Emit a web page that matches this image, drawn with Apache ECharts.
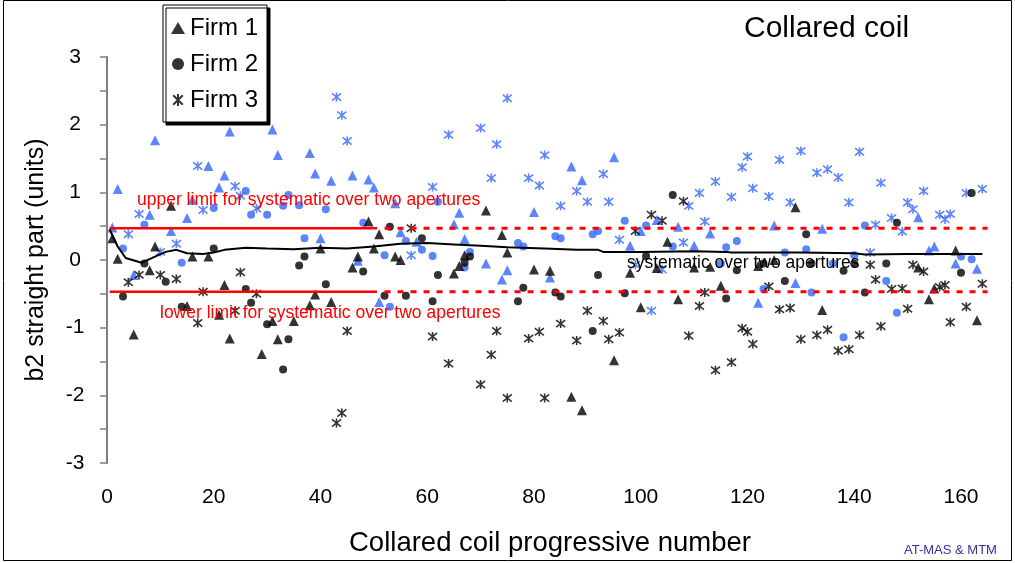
<!DOCTYPE html>
<html>
<head>
<meta charset="utf-8">
<script src="https://cdn.jsdelivr.net/npm/echarts@6/dist/echarts.min.js"></script>
<style>
  html, body { margin: 0; padding: 0; background: #fff; }
  #chart { width: 1015px; height: 563px; }
</style>
</head>
<body>
<div id="chart"></div>
<script>
// b2 harmonic in the straight part of each collared coil, per firm and aperture
// Each entry: [coil number, b2 (units)]

// Firm 1 (triangles)
const firm1Black = [
  [1,0.32],[2,0.02],[5,-1.10],[8,-0.15],[9,0.20],[12,0.80],[15,-0.68],[16,0.05],[19,0.05],
  [21,-0.81],[22,-0.37],[23,-1.16],[29,-1.39],[31,-0.90],[32,-1.17],[35,-0.90],[38,-0.67],
  [39,-0.51],[40,0.17],[42,-0.62],[46,-0.11],[47,0.05],[49,0.57],[50,0.17],[51,0.38],[54,0.05],
  [55,0.00],[65,-0.20],[66,-0.09],[67,0.07],[71,0.73],[74,0.37],[75,0.11],[80,-0.14],[83,-0.16],
  [87,-2.02],[89,-2.22],[95,-1.48],[98,-0.19],[100,-0.70],[103,-0.12],[105,0.27],[107,-0.58],
  [110,-0.11],[113,-0.10],[115,-0.38],[122,-0.09],[125,0.00],[129,0.78],[134,-0.74],[152,-0.11],
  [154,-0.58],[155,-0.42],[159,0.14],[163,-0.89]
];
const firm1Blue = [
  [1,0.48],[2,1.05],[5,-0.22],[8,0.67],[9,1.77],[12,0.43],[15,0.62],[16,0.89],[19,1.39],
  [21,1.07],[22,1.25],[23,1.90],[31,1.93],[32,1.55],[38,1.58],[39,1.28],[40,0.32],[42,1.17],
  [46,1.25],[47,-0.01],[49,1.19],[50,1.07],[51,-0.62],[54,0.84],[55,0.41],[58,0.27],[65,0.53],
  [66,0.70],[67,0.31],[71,-0.05],[74,-0.29],[75,-0.15],[80,0.71],[83,-0.26],[87,1.38],[89,1.18],
  [95,1.52],[98,0.21],[100,0.43],[103,0.59],[107,0.49],[110,0.21],[113,0.39],[122,-0.63],
  [125,0.51],[129,-0.34],[134,0.46],[152,0.63],[154,0.14],[155,0.20],[159,-0.05],[163,-0.13]
];

// Firm 2 (circles)
const firm2Black = [
  [3,-0.54],[7,-0.05],[11,-0.32],[14,-0.69],[20,0.17],[26,-0.43],[27,-0.63],[30,-0.95],
  [33,-1.62],[34,-1.17],[36,-0.08],[37,0.05],[41,-0.36],[48,-0.17],[52,-0.53],[53,0.49],
  [56,-0.53],[59,0.32],[61,-0.61],[62,-0.22],[67,-0.04],[68,0.05],[77,-0.61],[78,-0.41],
  [84,-0.48],[85,-0.54],[91,-1.05],[92,-0.22],[97,-0.49],[101,0.06],[106,0.96],[116,-0.57],
  [118,-0.15],[123,-0.05],[127,-0.31],[131,0.38],[132,-0.05],[138,-0.16],[140,-0.05],
  [142,-0.48],[146,-0.05],[148,0.55],[160,-0.19],[162,0.99]
];
const firm2Blue = [
  [3,0.17],[7,0.52],[14,-0.04],[20,0.77],[26,1.02],[27,0.67],[30,0.67],[33,0.80],[34,0.96],
  [36,0.81],[37,0.32],[41,0.75],[48,0.55],[52,0.07],[53,-0.69],[56,0.28],[59,0.15],[61,0.06],
  [62,0.86],[67,-0.11],[68,0.12],[77,0.25],[78,0.20],[84,0.35],[85,0.32],[91,0.38],[92,0.43],
  [97,0.58],[101,0.51],[106,0.20],[115,-0.05],[116,0.19],[118,0.28],[123,-0.43],[127,0.11],
  [131,0.16],[132,-0.48],[136,-0.05],[138,-1.14],[140,0.07],[142,0.51],[146,-0.31],[148,-0.78],
  [160,0.05],[162,0.01]
];

// Firm 3 (stars)
const firm3Black = [
  [4,-0.33],[6,-0.22],[10,-0.22],[13,-0.28],[17,-0.93],[18,-0.47],[24,-0.75],[25,-0.18],
  [28,-0.50],[43,-2.41],[44,-2.26],[45,-1.05],[57,0.47],[61,-1.13],[64,-1.53],[70,-1.84],
  [72,-1.40],[73,-1.05],[75,-2.04],[79,-1.16],[81,-1.06],[82,-2.04],[85,-0.94],[88,-1.19],
  [90,-0.75],[93,-0.90],[94,-1.17],[96,-1.07],[99,0.43],[102,0.67],[104,0.58],[108,0.87],
  [109,-1.12],[111,-0.68],[112,-0.48],[114,-1.63],[117,-1.51],[119,-1.01],[120,-1.06],
  [121,-1.24],[124,-0.39],[126,-0.73],[128,-0.71],[130,-1.17],[133,-1.11],[135,-1.03],
  [137,-1.34],[139,-1.32],[141,-1.11],[143,-0.07],[144,-0.29],[145,-0.98],[147,-0.43],
  [149,-0.42],[150,-0.72],[151,-0.07],[153,-0.17],[156,-0.40],[157,-0.37],[158,-0.92],
  [161,-0.69],[164,-0.35]
];
const firm3Blue = [
  [4,0.38],[6,0.68],[10,0.12],[13,0.24],[17,1.39],[18,0.74],[24,1.09],[25,0.95],[28,0.76],
  [43,2.41],[44,2.14],[45,1.76],[57,0.07],[61,1.08],[64,1.85],[70,1.95],[72,1.21],[73,1.71],
  [75,2.39],[79,1.21],[81,1.10],[82,1.55],[85,0.80],[88,1.02],[90,0.86],[93,1.27],[94,0.86],
  [96,0.30],[99,-0.07],[102,-0.75],[104,-0.14],[108,0.26],[109,0.80],[111,0.99],[112,0.57],
  [114,1.16],[117,0.93],[119,1.37],[120,1.53],[121,1.06],[124,0.94],[126,1.48],[128,0.85],
  [130,1.61],[133,1.29],[135,1.34],[137,1.22],[139,0.85],[141,1.60],[143,0.11],[144,0.52],
  [145,1.14],[147,0.62],[149,0.42],[150,0.85],[151,0.75],[153,1.02],[156,0.67],[157,0.60],
  [158,0.68],[161,0.99],[164,1.05]
];

// Running systematic over the two apertures
const systematicCoil  = [0.5, 2, 3.5, 6.5, 9, 11, 13, 15, 18, 20, 22, 26, 30, 35, 40, 45, 50, 55, 60,
                         65, 70, 75, 82, 88, 92, 93, 100, 110, 116, 117, 130, 140, 142, 150, 164];
const systematicValue = [0.45, 0.20, 0.03, -0.04, 0.05, 0.12, 0.15, 0.10, 0.09, 0.11, 0.15, 0.18, 0.17,
                         0.16, 0.18, 0.17, 0.20, 0.24, 0.25, 0.23, 0.21, 0.19, 0.17, 0.15, 0.15, 0.12,
                         0.12, 0.13, 0.12, 0.11, 0.11, 0.10, 0.08, 0.09, 0.09];

// Limits for the systematic over two apertures
const upperLimit = 0.47;
const lowerLimit = -0.47;
const limitSolidRange  = [0.5, 50.6];
const limitDashedRange = [52, 165];

// Axes
const xTicks = { min: 0, max: 166, interval: 20 };
const yTicks = { min: -3, max: 3, interval: 0.5 };

const BLUE = '#3366ff';
const FONT = '"Liberation Sans", Arial, sans-serif';
const STAR = 'path://M1,1L9,9M9,1L1,9M5,0L5,10';

const systematicLine = systematicCoil.map((c, i) => [c, systematicValue[i]]);

function limitSeries(value, range, dashed) {
  return {
    type: 'line', silent: true, symbol: 'none', z: 4,
    data: [[range[0], value], [range[1], value]],
    lineStyle: { color: '#ff0000', width: dashed ? 3 : 2.5, type: dashed ? [6, 7] : 'solid' }
  };
}

function scatter(name, data, shape, color, size, z) {
  const star = shape === STAR;
  return {
    name, type: 'scatter', data, symbol: shape, symbolSize: size, z,
    itemStyle: star
      ? { color: 'rgba(0,0,0,0)', borderColor: color, borderWidth: 1.6 }
      : { color: color, borderWidth: 0 }
  };
}

const chart = echarts.init(document.getElementById('chart'), null, { renderer: 'canvas' });
chart.setOption({
  animation: false,
  backgroundColor: '#ffffff',
  textStyle: { fontFamily: FONT },
  title: [
    { text: 'Collared coil', left: 739, top: 9,
      textStyle: { fontFamily: FONT, fontSize: 30, fontWeight: 'normal', color: '#000' } },
    { text: 'AT-MAS & MTM', left: 899, top: 539,
      textStyle: { fontFamily: FONT, fontSize: 13, fontWeight: 'normal', color: '#333399' } }
  ],
  legend: {
    data: ['Firm 1', 'Firm 2', 'Firm 3'],
    orient: 'vertical', left: 163, top: 5,
    padding: [11, 9, 10, 8], itemGap: 12, itemWidth: 14, itemHeight: 12,
    backgroundColor: '#fff', borderColor: '#000', borderWidth: 1,
    shadowColor: '#000', shadowBlur: 0, shadowOffsetX: 3, shadowOffsetY: 3,
    textStyle: { fontFamily: FONT, fontSize: 24, color: '#000' }
  },
  grid: { left: 107, right: 22, top: 57, bottom: 100 },
  xAxis: {
    type: 'value', min: xTicks.min, max: xTicks.max, interval: xTicks.interval,
    name: 'Collared coil progressive number', nameLocation: 'middle', nameGap: 66,
    nameTextStyle: { fontFamily: FONT, fontSize: 27.5, color: '#000' },
    axisLine: { show: false }, axisTick: { show: false }, splitLine: { show: false },
    axisLabel: { fontFamily: FONT, fontSize: 21, color: '#000', margin: 24, showMaxLabel: false }
  },
  yAxis: {
    type: 'value', min: yTicks.min, max: yTicks.max, interval: yTicks.interval,
    name: 'b2 straight part (units)', nameLocation: 'middle', nameGap: 58,
    nameTextStyle: { fontFamily: FONT, fontSize: 25, color: '#000' },
    axisLine: { show: true, lineStyle: { color: '#808080', width: 2 } },
    axisTick: { show: true, length: 7, lineStyle: { color: '#808080', width: 1.5 } },
    splitLine: { show: false },
    axisLabel: {
      fontFamily: FONT, fontSize: 21, color: '#000', margin: 32, align: 'center',
      formatter: v => (Number.isInteger(v) ? String(v) : '')
    }
  },
  graphic: [
    { type: 'rect', silent: true, z: -1,
      shape: { x: 3.5, y: 0.5, width: 1008, height: 560 },
      style: { fill: null, stroke: '#000', lineWidth: 1 } },
    { type: 'text', left: 137, top: 191, z: 10,
      style: { text: 'upper limit for systematic over two apertures', fill: '#ff0000', font: '17.5px ' + FONT } },
    { type: 'text', left: 160, top: 304, z: 10,
      style: { text: 'lower limit for systematic over two apertures', fill: '#ff0000', font: '17.5px ' + FONT } },
    { type: 'text', left: 627, top: 254, z: 10,
      style: { text: 'systematic over two apertures', fill: '#000', font: '17.5px ' + FONT } }
  ],
  series: [
    scatter('Firm 1', firm1Black, 'triangle', '#000', 10, 3),
    scatter('Firm 2', firm2Black, 'circle', '#000', 8, 3),
    scatter('Firm 3', firm3Black, STAR, '#000', 9, 3),
    scatter('Firm 1', firm1Blue, 'triangle', BLUE, 10, 2),
    scatter('Firm 2', firm2Blue, 'circle', BLUE, 8, 2),
    scatter('Firm 3', firm3Blue, STAR, BLUE, 9, 2),
    limitSeries(upperLimit, limitSolidRange, false),
    limitSeries(upperLimit, limitDashedRange, true),
    limitSeries(lowerLimit, limitSolidRange, false),
    limitSeries(lowerLimit, limitDashedRange, true),
    {
      name: 'systematic', type: 'line', data: systematicLine, symbol: 'none', silent: true, z: 5,
      lineStyle: { color: '#000', width: 2 }
    }
  ]
});
</script>
</body>
</html>
